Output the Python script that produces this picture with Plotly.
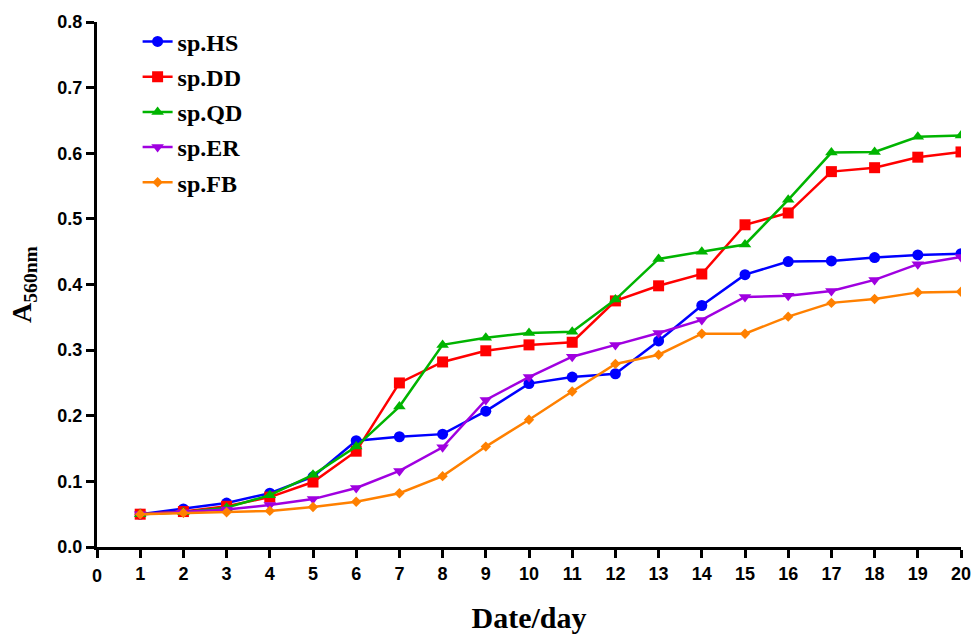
import plotly.graph_objects as go

days = list(range(1, 21))
hs = [0.050, 0.058, 0.067, 0.082, 0.107, 0.162, 0.168, 0.172, 0.207, 0.249, 0.259, 0.264, 0.314, 0.368, 0.415, 0.435, 0.436, 0.441, 0.445, 0.447]
dd = [0.050, 0.054, 0.062, 0.076, 0.099, 0.146, 0.250, 0.282, 0.299, 0.308, 0.312, 0.375, 0.398, 0.416, 0.491, 0.509, 0.572, 0.578, 0.594, 0.602]
qd = [0.050, 0.053, 0.060, 0.079, 0.110, 0.153, 0.214, 0.308, 0.319, 0.326, 0.328, 0.377, 0.439, 0.450, 0.461, 0.529, 0.601, 0.602, 0.625, 0.627]
er = [0.050, 0.053, 0.057, 0.064, 0.073, 0.090, 0.116, 0.152, 0.224, 0.259, 0.290, 0.308, 0.326, 0.346, 0.381, 0.383, 0.390, 0.407, 0.431, 0.442]
fb = [0.050, 0.052, 0.053, 0.055, 0.061, 0.069, 0.082, 0.108, 0.153, 0.194, 0.237, 0.279, 0.293, 0.325, 0.325, 0.351, 0.372, 0.378, 0.388, 0.389]

names = ["sp.HS", "sp.DD", "sp.QD", "sp.ER", "sp.FB"]
series = [hs, dd, qd, er, fb]
colors = ["#0000FF", "#FF0000", "#00B400", "#A000E0", "#FF8000"]
symbols = ["circle", "square", "triangle-up", "triangle-down", "diamond"]
sizes = [11, 11, 11, 11, 8]

x_ticks = list(range(0, 21))
y_ticks = [0.0, 0.1, 0.2, 0.3, 0.4, 0.5, 0.6, 0.7, 0.8]

fig = go.Figure()
for i, (n, s) in enumerate(zip(names, series)):
    fig.add_trace(go.Scatter(
        x=days, y=s, name=n, mode="lines+markers",
        line=dict(color=colors[i], width=2.5),
        marker=dict(color=colors[i], symbol=symbols[i], size=sizes[i]),
        legendgroup=n,
    ))

axis_font = dict(family="Liberation Sans, Arial", size=18, color="black", weight="bold")
serif = "Liberation Serif, Times New Roman"

fig.update_layout(
    width=972, height=634,
    margin=dict(l=97, r=11, t=22, b=87),
    plot_bgcolor="white", paper_bgcolor="white",
    showlegend=True,
    legend=dict(
        x=0.047, y=1.005, xanchor="left", yanchor="top",
        font=dict(family=serif, size=24, color="black", weight="bold"),
        tracegroupgap=1, bgcolor="rgba(0,0,0,0)",
    ),
    xaxis=dict(
        range=[0, 20], tickvals=x_ticks,
        ticktext=[""] + [str(v) for v in x_ticks[1:]],
        showline=True, linecolor="black", linewidth=3,
        ticks="outside", ticklen=8, tickwidth=3, tickcolor="black",
        showgrid=False, zeroline=False, tickfont=axis_font, automargin=False,
        title=dict(text="Date/day", font=dict(family=serif, size=30, color="black", weight="bold"), standoff=30),
    ),
    yaxis=dict(
        range=[0, 0.8], tickvals=y_ticks, tickformat=".1f",
        showline=True, linecolor="black", linewidth=3,
        ticks="outside", ticklen=8, tickwidth=3, tickcolor="black",
        showgrid=False, zeroline=False, tickfont=axis_font, automargin=False,
        title=dict(text="A<sub>560nm</sub>", font=dict(family=serif, size=28, color="black", weight="bold"), standoff=18),
    ),
)

fig.add_annotation(
    x=0, y=0, xref="x", yref="paper", text="0", showarrow=False,
    yanchor="top", yshift=-17, font=axis_font,
)

fig.write_html(
    "out.html",
    config={"displayModeBar": False},
    post_script="document.body.style.margin='0';document.body.style.overflow='hidden';",
)
